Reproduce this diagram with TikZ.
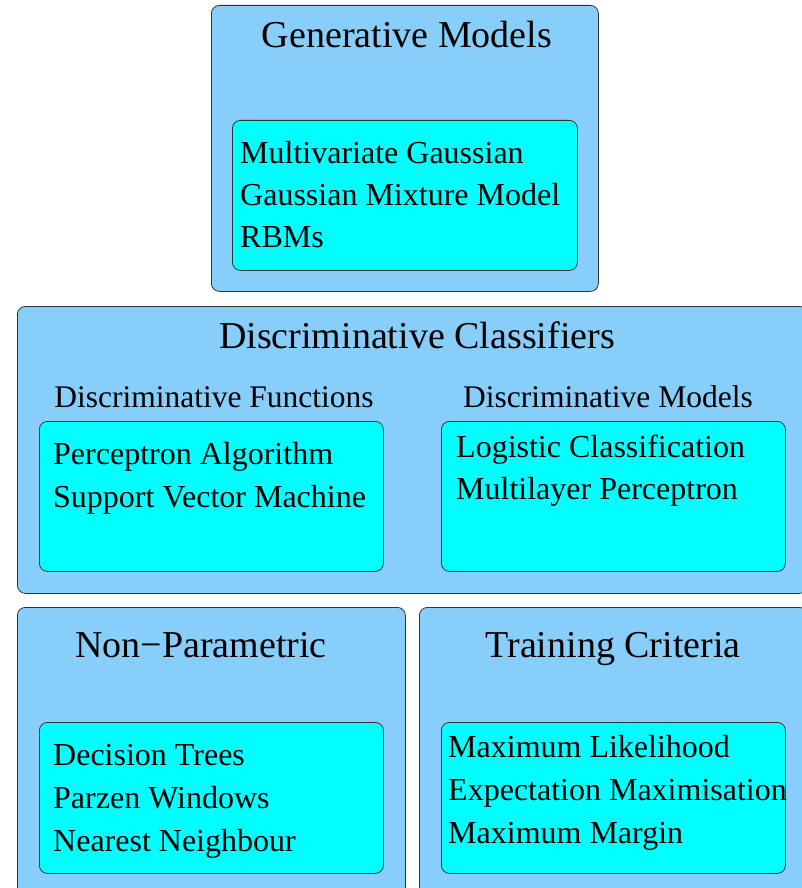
\documentclass[tikz,border=0pt]{standalone}
\usepackage{fontspec}
\setmainfont{Liberation Serif}
\definecolor{skyblue}{RGB}{135,206,250}
\definecolor{aqua}{RGB}{0,255,255}
\tikzset{
  outerbox/.style={draw=black!80, fill=skyblue, rounded corners=8pt, line width=0.8pt, anchor=north west, inner sep=0pt},
  innerbox/.style={draw=black!80, fill=aqua, rounded corners=8pt, line width=0.8pt, anchor=north west, inner sep=0pt},
  boxtitle/.style={font=\fontsize{38}{41}\selectfont, inner sep=0pt, anchor=base},
  subtitle/.style={font=\fontsize{31.5}{34}\selectfont, inner sep=0pt, anchor=base},
  itemline/.style={font=\fontsize{32}{35}\selectfont, inner sep=0pt, anchor=base west},
}
\begin{document}
\begin{tikzpicture}[x=1pt, y=-1pt]
                \useasboundingbox (0,0) rectangle (802,888);
                \clip (0,0) rectangle (802,888);
                % generative models
                \node[outerbox, minimum width=387pt, minimum height=286pt] (gen) at (211,5) {};
                \node[innerbox, minimum width=345pt, minimum height=150pt] (geninner) at (232,120) {};
                \node[boxtitle] (gentitle) at (407,48) {Generative Models};
                \foreach \txt [count=\i] in {Multivariate Gaussian, Gaussian Mixture Model, RBMs}
                    \node[itemline] (gen-\i) at (240,{163+42*(\i-1)}) {\txt};
                % discriminative classifiers
                \node[outerbox, minimum width=790pt, minimum height=287pt] (disc) at (17,306) {};
                \node[boxtitle] (disctitle) at (417,348) {Discriminative Classifiers};
                \node[subtitle] (dftitle) at (214,407) {Discriminative Functions};
                \node[subtitle] (dmtitle) at (608,407) {Discriminative Models};
                \node[innerbox, minimum width=344pt, minimum height=150pt] (df) at (39,421) {};
                \node[innerbox, minimum width=344pt, minimum height=150pt] (dm) at (441,421) {};
                \foreach \txt [count=\i] in {Perceptron Algorithm, Support Vector Machine}
                    \node[itemline] (df-\i) at (53,{464+43*(\i-1)}) {\txt};
                \foreach \txt [count=\i] in {Logistic Classification, Multilayer Perceptron}
                    \node[itemline] (dm-\i) at (456,{457+42*(\i-1)}) {\txt};
                % non-parametric
                \node[outerbox, minimum width=388pt, minimum height=300pt] (nonpar) at (17,607) {};
                \node[innerbox, minimum width=344pt, minimum height=151pt] (npinner) at (39,722) {};
                \node[boxtitle] (nptitle) at (201,657) {Non−Parametric};
                \foreach \txt [count=\i] in {Decision Trees, Parzen Windows, Nearest Neighbour}
                    \node[itemline] (np-\i) at (53,{765+43*(\i-1)}) {\txt};
                % training criteria
                \node[outerbox, minimum width=388pt, minimum height=300pt] (train) at (419,607) {};
                \node[innerbox, minimum width=344pt, minimum height=151pt] (trinner) at (441,722) {};
                \node[boxtitle] (trtitle) at (613,657) {Training Criteria};
                \foreach \txt [count=\i] in {Maximum Likelihood, Expectation Maximisation, Maximum Margin}
                    \node[itemline] (tr-\i) at (448,{757+43*(\i-1)}) {\txt};
            \end{tikzpicture}
\end{document}
